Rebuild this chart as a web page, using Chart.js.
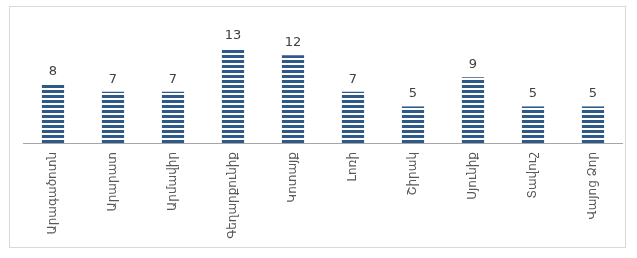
<!DOCTYPE html>
<html>
<head>
<meta charset="utf-8">
<script src="https://cdn.jsdelivr.net/npm/chart.js@4"></script>
<style>
  html, body { margin: 0; padding: 0; background: #fff; }
  #wrap { width: 637px; height: 258px; }
</style>
</head>
<body>
<div id="wrap"><canvas id="grafico" width="637" height="258"></canvas></div>
<script>
const regions = ['Արագածոտն', 'Արարատ', 'Արմավիր', 'Գեղարքունիք', 'Կոտայք', 'Լոռի', 'Շիրակ', 'Սյունիք', 'Տավուշ', 'Վայոց Ձոր'];
const counts = [8, 7, 7, 13, 12, 7, 5, 9, 5, 5];

// striped fill like the original
function stripes() {
    const c = document.createElement('canvas');
    c.width = 6; c.height = 5;
    const g = c.getContext('2d');
    g.fillStyle = '#ffffff';
    g.fillRect(0, 0, 6, 5);
    g.fillStyle = '#2f5a88';
    g.fillRect(0, 0, 6, 3);
    return g.createPattern(c, 'repeat');
}

const extras = {
    id: 'extras',
    afterDraw(chart) {
        const ctx = chart.ctx;
        const x = chart.scales.x;
        const meta = chart.getDatasetMeta(0);
        ctx.save();
        // border
        ctx.strokeStyle = '#d9d9d9';
        ctx.lineWidth = 1;
        ctx.strokeRect(9.5, 6.5, 616, 241);
        // baseline
        ctx.strokeStyle = '#a6a6a6';
        ctx.beginPath();
        ctx.moveTo(chart.chartArea.left, chart.chartArea.bottom + 0.5);
        ctx.lineTo(chart.chartArea.right, chart.chartArea.bottom + 0.5);
        ctx.stroke();
        // values
        ctx.fillStyle = '#404040';
        ctx.font = '13px "DejaVu Sans"';
        ctx.textAlign = 'center';
        ctx.textBaseline = 'bottom';
        meta.data.forEach((bar, i) => {
            ctx.fillText(counts[i], bar.x, bar.y - 6);
        });
        // rotated labels
        ctx.fillStyle = '#595959';
        ctx.font = '12px "DejaVu Sans"';
        ctx.textAlign = 'right';
        ctx.textBaseline = 'middle';
        regions.forEach((r, i) => {
            const px = x.getPixelForTick(i);
            ctx.save();
            ctx.translate(px, chart.chartArea.bottom + 9);
            ctx.rotate(-Math.PI / 2);
            ctx.fillText(r, 0, 0);
            ctx.restore();
        });
        ctx.restore();
    }
};

const ctxBar = document.getElementById('grafico').getContext('2d');
const grafico = new Chart(ctxBar, {
    type: 'bar',
    data: {
        labels: regions,
        datasets: [{
            data: counts,
            backgroundColor: stripes(),
            categoryPercentage: 1,
            barPercentage: 0.37
        }]
    },
    options: {
        responsive: false,
        animation: false,
        layout: { padding: { left: 23, right: 14, top: 26, bottom: 0 } },
        plugins: {
            legend: { display: false },
            tooltip: { enabled: false }
        },
        scales: {
            x: {
                grid: { display: false },
                border: { display: false },
                ticks: { display: false },
                afterFit(scale) { scale.height = 115; }
            },
            y: {
                display: false,
                min: 0,
                max: 16
            }
        }
    },
    plugins: [extras]
});
</script>
</body>
</html>
